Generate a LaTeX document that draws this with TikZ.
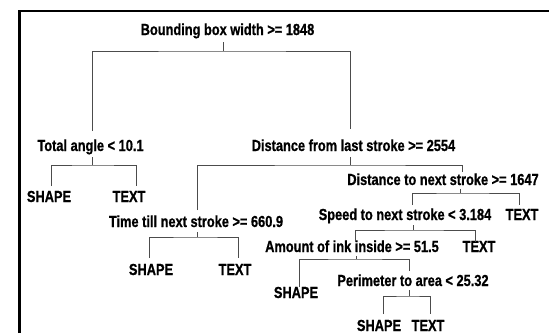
\documentclass[tikz,border=0pt]{standalone}
\usepackage{fontspec}
\newfontfamily\lblfont{Liberation Sans Bold}[FakeStretch=0.8, FakeBold=0.8]
\begin{document}
\begin{tikzpicture}[x=1pt,y=-1pt,
  lbl/.style={font=\lblfont\fontsize{16}{16}\selectfont, inner sep=0pt, anchor=base},
  br/.style={draw=black!70, line width=0.9pt},
  frame/.style={draw=black, line width=2.7pt}]
\useasboundingbox (0,0) rectangle (549,333);
\fill[white] (0,0) rectangle (549,333);
\draw[frame] (19.6,333) -- (19.6,11) -- (549,11);

% nodes
\node[lbl] (root) at (227.5,35) {Bounding box width >= 1848};
\node[lbl] (A) at (90.5,151) {Total angle < 10.1};
\node[lbl] (B) at (353.5,151) {Distance from last stroke >= 2554};
\node[lbl] (A1) at (49,202) {SHAPE};
\node[lbl] (A2) at (129,202) {TEXT};
\node[lbl] (C) at (196,227) {Time till next stroke >= 660.9};
\node[lbl] (C1) at (151,275) {SHAPE};
\node[lbl] (C2) at (235,275) {TEXT};
\node[lbl] (D) at (443,185) {Distance to next stroke >= 1647};
\node[lbl] (E) at (405,220) {Speed to next stroke < 3.184};
\node[lbl] (D2) at (522,220) {TEXT};
\node[lbl] (F) at (352,252) {Amount of ink inside >= 51.5};
\node[lbl] (E2) at (479,252) {TEXT};
\node[lbl] (F1) at (296,298) {SHAPE};
\node[lbl] (G) at (413,286) {Perimeter to area < 25.32};
\node[lbl] (G1) at (379,331) {SHAPE};
\node[lbl] (G2) at (428,331) {TEXT};

% junction coordinates
\coordinate (rJ) at (223,51);
\coordinate (aJ) at (92,165);
\coordinate (bJ) at (350,165);
\coordinate (cJ) at (197,237);
\coordinate (dJ) at (460,193);
\coordinate (eJ) at (413,230);
\coordinate (fJ) at (356,259);
\coordinate (gJ) at (409,296);

% root split
\draw[br] (223,42) -- (rJ);
\draw[br] (92,131) |- (rJ) -| (350,129);
% A split
\draw[br] (92,157) -- (aJ);
\draw[br] (51,186) |- (aJ) -| (136,186);
% B split
\draw[br] (350,157) -- (bJ);
\draw[br] (197,210) |- (bJ) -| (462,172);
% C split
\draw[br] (197,232) -- (cJ);
\draw[br] (149,258) |- (cJ) -| (238,258);
% D split
\draw[br] (460,189) -- (dJ);
\draw[br] (412,205) |- (dJ) -| (519,205);
% E split
\draw[br] (413,225) -- (eJ);
\draw[br] (355,242) |- (eJ) -| (475,242);
% F split
\draw[br] (356,256) -- (fJ);
\draw[br] (299,287) |- (fJ) -| (409,271);
% G split
\draw[br] (409,290) -- (gJ);
\draw[br] (383,314) |- (gJ) -| (430,314);
\end{tikzpicture}
\end{document}
